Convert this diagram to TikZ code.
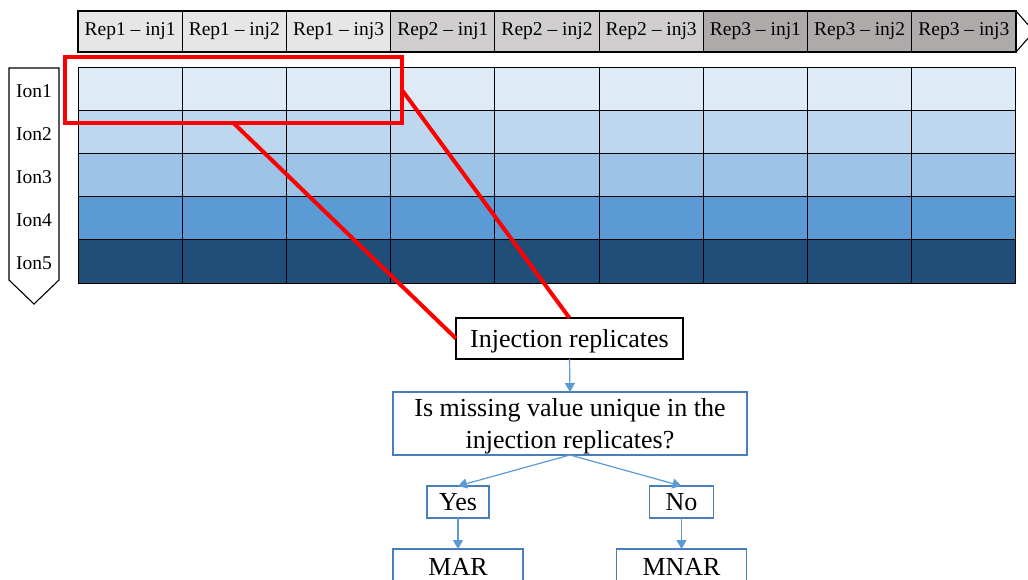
\documentclass[tikz,border=0pt]{standalone}
\usepackage{fontspec}
\setmainfont{Liberation Serif}
\usetikzlibrary{arrows.meta}
\definecolor{rowA}{HTML}{DEEBF7}
\definecolor{rowB}{HTML}{BDD7EE}
\definecolor{rowC}{HTML}{9DC3E6}
\definecolor{rowD}{HTML}{5B9BD5}
\definecolor{rowE}{HTML}{1F4E79}
\definecolor{repA}{HTML}{E7E6E6}
\definecolor{repB}{HTML}{D0CECE}
\definecolor{repC}{HTML}{AEAAAA}
\definecolor{flowline}{HTML}{5B9BD5}
\definecolor{flowborder}{HTML}{4A7EBB}
\definecolor{selred}{HTML}{FF0000}
\tikzset{
  hcell/.style={draw=black, line width=1.1pt, minimum width=104.22pt, minimum height=41pt,
    inner sep=0pt, outer sep=0pt, font=\fontsize{19.5}{22}\selectfont},
  gcell/.style={draw=black, line width=1pt, minimum width=104.22pt, minimum height=43pt,
    inner sep=0pt, outer sep=0pt},
  ionlabel/.style={inner sep=0pt, font=\fontsize{19.5}{22}\selectfont},
  flowbox/.style={draw=flowborder, line width=1.1pt, fill=white, inner sep=0pt, outer sep=0pt,
    font=\fontsize{26}{32}\selectfont},
  onebox/.style={flowbox, text height=17pt, text depth=0pt},
  blackbox/.style={onebox, draw=black},
  flowarrow/.style={draw=flowline, line width=1.2pt, -{Triangle[width=10pt,length=9pt]}},
  redline/.style={draw=selred, line width=4pt}
}
\begin{document}
\begin{tikzpicture}[x=1pt,y=-1pt]
\useasboundingbox (0,0) rectangle (1028,580);
\clip (0,0) rectangle (1028,580);
% header arrow outline
\draw[line width=1.1pt, fill=white] (78,11) -- (1016,11) -- (1034,31.5) -- (1016,52) -- (78,52) -- cycle;
% header cells
\foreach \i/\r/\j/\c in {0/1/1/repA,1/1/2/repA,2/1/3/repA,3/2/1/repB,4/2/2/repB,5/2/3/repB,6/3/1/repC,7/3/2/repC,8/3/3/repC}{
  \node[hcell, fill=\c] (h\i) at ({78+104.22*(\i+0.5)},31.5) {Rep\r\ – inj\j};
}
% ion pentagon
\draw[line width=1.1pt, fill=white] (9,68) -- (59,68) -- (59,280) -- (34,304) -- (9,280) -- cycle;
% grid
\foreach \row/\c in {0/rowA,1/rowB,2/rowC,3/rowD,4/rowE}{
  \foreach \col in {0,...,8}{
    \node[gcell, fill=\c] (g\row\col) at ({78+104.22*(\col+0.5)},{68+43*(\row+0.5)}) {};
  }
  \pgfmathtruncatemacro{\n}{\row+1}
  \node[ionlabel] (ion\n) at (34,{68+43*(\row+0.5)+2}) {Ion\n};
}
% selection rectangle
\node[draw=selred, line width=4pt, minimum width=337pt, minimum height=66pt, inner sep=0pt, outer sep=0pt] (sel) at (233.5,90) {};
% flow boxes
\node[blackbox, minimum width=227pt, minimum height=41pt] (inj) at (569.5,338.5) {Injection replicates};
\node[flowbox, minimum width=354pt, minimum height=63pt, align=center] (q) at (570,423.5) {\rule{0pt}{24pt}Is missing value unique in the\\injection replicates?};
\node[onebox, minimum width=62pt, minimum height=32pt] (yes) at (458,502) {Yes};
\node[onebox, minimum width=64pt, minimum height=32pt] (no) at (681.5,502) {No};
\node[onebox, minimum width=130pt, minimum height=36pt] (mar) at (458,567) {MAR};
\node[onebox, minimum width=130pt, minimum height=36pt] (mnar) at (681.5,567) {MNAR};
% red connectors
\draw[redline] (sel.south) -- (inj.west);
\draw[redline] (sel.east) -- (inj.north);
% blue arrows
\draw[flowarrow] (inj.south) -- (q.north);
\draw[flowarrow] (q.south) -- (yes.north);
\draw[flowarrow] (q.south) -- (no.north);
\draw[flowarrow] (yes.south) -- (mar.north);
\draw[flowarrow] (no.south) -- (mnar.north);
\end{tikzpicture}
\end{document}
